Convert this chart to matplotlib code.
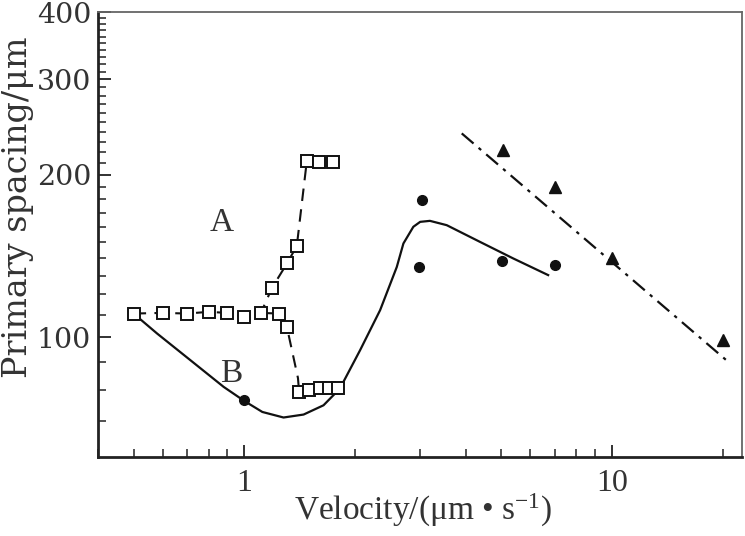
import numpy as np
import matplotlib
matplotlib.use("Agg")
import matplotlib.pyplot as plt
from matplotlib.ticker import FixedLocator, NullFormatter, FixedFormatter, LogLocator

plt.rcParams['font.family'] = ['Liberation Serif', 'DejaVu Serif']
plt.rcParams['mathtext.fontset'] = 'custom'
plt.rcParams['mathtext.rm'] = 'Liberation Serif'
plt.rcParams['mathtext.it'] = 'Liberation Serif:italic'

# Open squares, series A (upper branch) and lower branch
sq_x = [0.5, 0.6, 0.7, 0.8, 0.9, 1.0, 1.11, 1.24, 1.19, 1.31, 1.39, 1.48, 1.60, 1.74,
        1.306, 1.41, 1.50, 1.61, 1.70, 1.80]
sq_y = [110.6, 110.9, 110.6, 111.4, 110.9, 108.8, 110.9, 110.6, 123.4, 137.3, 147.6, 212.1, 210.9, 210.9,
        104.5, 79.2, 79.9, 80.6, 80.6, 80.6]

# dashed line branches
dashA_x = [0.5, 0.6, 0.7, 0.8, 0.9, 1.0, 1.11, 1.19, 1.31, 1.39, 1.48, 1.60, 1.74]
dashA_y = [110.6, 110.9, 110.6, 111.4, 110.9, 108.8, 110.9, 123.4, 137.3, 147.6, 212.1, 210.9, 210.9]
dashB_x = [1.11, 1.24, 1.306, 1.40, 1.41, 1.50, 1.61, 1.70, 1.80]
dashB_y = [110.9, 110.6, 104.5, 84.0, 79.2, 79.9, 80.6, 80.6, 80.6]

# filled circles
circ_x = [1.0, 1.8, 3.05, 2.99, 5.02, 7.0]
circ_y = [76.4, 80.6, 179.4, 134.8, 138.2, 136.0]

# filled triangles
tri_x = [5.06, 7.0, 10.0, 20.0]
tri_y = [222.0, 189.6, 140.0, 98.7]

# solid curve B
curve_x = [0.5, 0.579, 0.713, 0.879, 1.0, 1.12, 1.279, 1.45, 1.643, 1.82, 2.066, 2.342, 2.60, 2.71,
           2.884, 3.01, 3.2, 3.555, 4.38, 5.39, 6.71]
curve_y = [110.6, 101.6, 90.7, 80.9, 76.2, 72.7, 71.0, 71.9, 74.8, 80.3, 94.6, 112.2, 134.9, 149.1,
           160.1, 163.5, 164.2, 161.2, 150.1, 139.9, 130.3]

# dash-dot fit line
fit_x = [3.905, 20.9]
fit_y = [238.4, 89.6]

fig = plt.figure(figsize=(7.45, 5.36), dpi=100)
ax = fig.add_axes([0.1315, 0.1474, 0.8645, 0.8302])

ax.plot(curve_x, curve_y, '-', color='#111111', lw=1.6, zorder=2)
ax.plot(dashA_x, dashA_y, '--', color='#111111', lw=1.5, dashes=(6, 4), zorder=2)
ax.plot(dashB_x, dashB_y, '--', color='#111111', lw=1.5, dashes=(6, 4), zorder=2)
ax.plot(fit_x, fit_y, color='#111111', lw=1.6, dashes=(7, 3, 1.5, 3), zorder=2)
ax.plot(circ_x, circ_y, 'o', color='#111111', ms=7, ls='none', zorder=3)
ax.plot(tri_x, tri_y, '^', color='#111111', ms=9, ls='none', zorder=3)
ax.plot(sq_x, sq_y, 's', mfc='white', mec='#111111', mew=1.4, ms=8, ls='none', zorder=4)

ax.text(0.866, 165.4, 'A', fontsize=24, ha='center', va='center_baseline', color='#333333')
ax.text(0.922, 86.9, 'B', fontsize=24, ha='center', va='center_baseline', color='#333333')

ax.set_xscale('log')
ax.set_yscale('log')
ax.set_xlim(0.4, 22.6)
ax.set_ylim(60, 400)

ax.xaxis.set_major_locator(FixedLocator([1, 10]))
ax.xaxis.set_major_formatter(FixedFormatter(['1', '10']))
ax.xaxis.set_minor_locator(LogLocator(base=10, subs=np.arange(2, 10)))
ax.xaxis.set_minor_formatter(NullFormatter())

ax.yaxis.set_major_locator(FixedLocator([100, 200, 300, 400]))
ax.yaxis.set_major_formatter(FixedFormatter(['100', '200', '300', '400']))
ax.yaxis.set_minor_locator(FixedLocator([v for v in range(70, 400, 10) if v not in (100, 200, 300)]))
ax.yaxis.set_minor_formatter(NullFormatter())

ax.tick_params(which='both', direction='in', top=False, right=False, colors='#222222',
               labelcolor='#333333')
ax.tick_params(which='major', length=9, width=1.3)
ax.tick_params(which='minor', length=6, width=1.1)
ax.tick_params(axis='x', which='major', labelsize=23, pad=9)
ax.tick_params(axis='y', which='major', labelsize=20.5, pad=5)
for lab in ax.get_yticklabels():
    lab.set_fontfamily('DejaVu Serif')

for s in ('left', 'bottom'):
    ax.spines[s].set_linewidth(2.0)
    ax.spines[s].set_color('#222222')
for s in ('top', 'right'):
    ax.spines[s].set_linewidth(1.3)
    ax.spines[s].set_color('#666666')

fig.text(0.5685, 1 - 520 / 536, 'Velocity/(μm • s$^{\\mathrm{-1}}$)', fontsize=24,
         color='#333333', ha='center', va='baseline')
fig.text(0.0235, 1 - 207 / 536, 'Primary spacing/μm', fontsize=24, rotation=90,
         family='DejaVu Serif', color='#333333', ha='center', va='center')

fig.savefig('out.png', dpi=100)
